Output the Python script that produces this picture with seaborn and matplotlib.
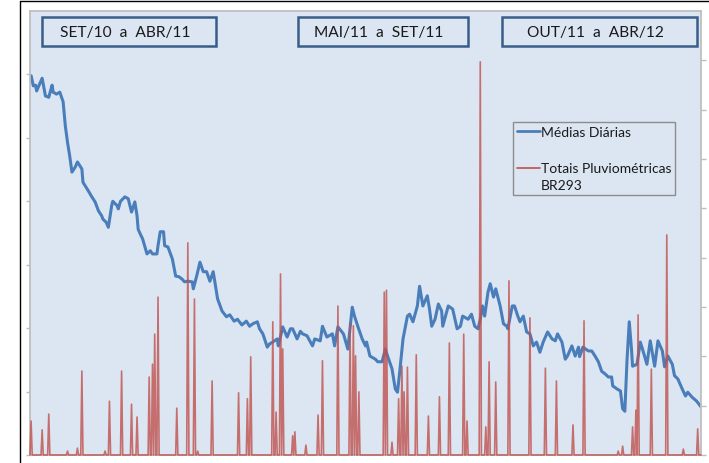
import numpy as np
import pandas as pd
import matplotlib
matplotlib.use("Agg")
import matplotlib.pyplot as plt
import seaborn as sns
from matplotlib.lines import Line2D
from matplotlib.patches import Rectangle
from matplotlib.legend_handler import HandlerLine2D

# ---------------- data ----------------
n_dias = 609  # SET/10 .. ABR/12, daily index

dias_media = [1, 3, 5, 6, 11, 14, 17, 20, 21, 24, 27, 30, 32, 34, 36, 38, 41, 43, 47, 48,
              52, 53, 56, 59, 62, 65, 66, 69, 71, 74, 75, 79, 80, 82, 86, 89, 92, 95, 97, 98,
              100, 102, 106, 109, 111, 115, 116, 118, 121, 122, 125, 129, 132, 135, 138, 140, 143, 147, 148, 151,
              154, 157, 160, 163, 166, 170, 174, 178, 181, 185, 188, 192, 196, 199, 202, 206, 208, 211, 215, 217,
              220, 224, 225, 229, 233, 236, 238, 242, 245, 247, 251, 256, 258, 263, 265, 269, 274, 276, 279, 284,
              288, 292, 294, 297, 301, 304, 305, 308, 313, 315, 319, 322, 324, 328, 331, 333, 335, 338, 342, 344,
              347, 351, 353, 356, 360, 362, 364, 367, 370, 373, 374, 379, 383, 387, 390, 392, 397, 400, 403, 406,
              408, 410, 412, 415, 417, 420, 422, 426, 429, 432, 433, 437, 439, 442, 444, 447, 450, 453, 456, 459,
              462, 465, 469, 473, 476, 478, 482, 485, 487, 491, 494, 497, 498, 501, 506, 509, 512, 515, 518, 521,
              524, 527, 528, 532, 535, 537, 539, 541, 543, 545, 546, 550, 553, 555, 559, 562, 566, 569, 573, 575,
              578, 582, 584, 587, 591, 594, 596, 600, 604, 608]
medias_diarias = [5.98, 5.82, 5.83, 5.74, 5.94, 5.66, 5.64, 5.83, 5.72, 5.69, 5.72, 5.57, 5.19, 4.93, 4.71, 4.46, 4.54, 4.62, 4.51, 4.30,
                  4.19, 4.16, 4.07, 3.99, 3.85, 3.77, 3.72, 3.67, 3.59, 3.93, 4.00, 3.93, 3.88, 4.00, 4.07, 4.04, 3.83, 3.99, 3.77, 3.56,
                  3.48, 3.41, 3.17, 3.22, 3.17, 3.17, 3.30, 3.52, 3.52, 3.30, 3.28, 3.09, 2.82, 2.81, 2.77, 2.73, 2.74, 2.73, 2.62, 2.82,
                  3.04, 2.89, 2.89, 2.74, 2.89, 2.46, 2.27, 2.18, 2.21, 2.11, 2.14, 2.05, 2.11, 2.03, 2.07, 2.10, 1.99, 1.91, 1.70, 1.75,
                  1.78, 1.83, 1.72, 2.02, 1.86, 1.99, 1.99, 1.83, 1.95, 1.91, 1.88, 1.72, 1.83, 1.80, 2.03, 1.86, 1.91, 1.72, 2.02, 1.91,
                  1.67, 2.33, 2.19, 2.03, 1.83, 1.72, 1.78, 1.56, 1.51, 1.47, 1.47, 1.67, 1.56, 1.36, 1.04, 0.99, 1.31, 1.83, 2.19, 2.22,
                  2.10, 2.35, 2.66, 2.35, 2.51, 2.30, 2.03, 2.14, 2.38, 2.27, 2.03, 2.35, 2.30, 1.99, 2.03, 2.19, 2.14, 2.22, 2.03, 1.99,
                  2.14, 2.35, 2.19, 2.57, 2.70, 2.49, 2.62, 2.35, 2.07, 2.03, 1.99, 2.35, 2.35, 2.19, 2.10, 2.19, 1.94, 1.91, 1.72, 1.78,
                  1.62, 1.78, 1.94, 1.83, 1.80, 1.91, 1.78, 1.51, 1.56, 1.72, 1.56, 1.70, 1.55, 1.70, 1.64, 1.64, 1.56, 1.47, 1.32, 1.28,
                  1.23, 1.23, 1.09, 1.04, 1.01, 0.73, 0.69, 1.51, 2.10, 1.67, 1.40, 1.43, 1.78, 1.67, 1.43, 1.80, 1.40, 1.80, 1.64, 1.39,
                  1.56, 1.43, 1.25, 1.20, 1.04, 0.93, 0.99, 0.91, 0.85, 0.76]

dias_chuva = [1, 11, 17, 34, 43, 47, 68, 72, 83, 92, 97, 108, 111, 113, 116, 133, 143, 149, 152, 165,
              189, 197, 200, 220, 223, 227, 229, 238, 240, 250, 261, 265, 279, 290, 293, 295, 298, 321, 323, 328,
              334, 337, 339, 342, 350, 361, 371, 380, 393, 396, 408, 413, 416, 422, 434, 453, 467, 477, 492, 502,
              533, 537, 546, 549, 551, 563, 577, 592, 605]
totais_chuva = [0.69, 0.51, 0.83, 0.08, 0.14, 1.70, 0.08, 1.09, 1.70, 1.03, 0.77, 1.58, 1.84, 2.45, 3.20, 0.95, 4.30, 3.16, 0.08, 1.50,
                1.26, 1.14, 1.99, 2.70, 0.87, 3.67, 2.15, 0.39, 0.47, 0.20, 0.81, 1.91, 3.02, 2.66, 2.62, 2.01, 1.28, 3.30, 3.34, 0.26,
                1.14, 1.80, 1.28, 1.78, 2.03, 0.79, 1.18, 2.27, 2.45, 0.69, 7.97, 0.57, 1.89, 1.48, 3.53, 2.78, 1.76, 1.50, 0.61, 2.72,
                0.08, 0.18, 0.57, 0.91, 2.84, 1.74, 4.46, 0.12, 0.53]

periodos = ["SET/10  a  ABR/11", "MAI/11  a  SET/11", "OUT/11  a  ABR/12"]
legenda = ["Médias Diárias", "Totais Pluviométricas\nBR293"]

# ---------------- style ----------------
sns.set_style("white")
plt.rcParams["font.family"] = ["Lato", "DejaVu Sans"]

AZUL = "#4A7EBB"
VERMELHO = "#C0504D"
FUNDO = "#DCE6F2"
CINZA = "#BFBFBF"

fig = plt.figure(figsize=(7.09, 4.64), dpi=100)
ax = fig.add_axes([30 / 709, 8 / 464, 671 / 709, 444 / 464])
ax.set_facecolor(FUNDO)

df_media = pd.DataFrame({"dia": dias_media, "valor": medias_diarias})
sns.lineplot(data=df_media, x="dia", y="valor", ax=ax, color=AZUL, linewidth=2.2)

ax2 = ax.twinx()
chuva = np.zeros(n_dias)
chuva[dias_chuva] = totais_chuva
df_chuva = pd.DataFrame({"dia": np.arange(n_dias), "valor": chuva})
sns.lineplot(data=df_chuva, x="dia", y="valor", ax=ax2, color=VERMELHO, linewidth=1.2, alpha=0.8)
for ln in ax2.lines:
    ln.set_clip_on(False)

ax.set_xlim(0, n_dias - 1)
ax.set_ylim(0, 7)
ax2.set_ylim(0, 9)
ax.set_yticks(range(7))
ax2.set_yticks(range(9))
ax.set_yticklabels([])
ax2.set_yticklabels([])
ax.set_xticks([])
for a in (ax, ax2):
    a.set_xlabel("")
    a.set_ylabel("")
ax.tick_params(axis="y", left=True, right=False, length=3, width=1, color=CINZA, direction="out")
ax2.tick_params(axis="y", right=True, left=False, length=3.5, width=1, color=CINZA, direction="out")
for s in ax.spines.values():
    s.set_color(CINZA)
    s.set_linewidth(1.3)
for s in ax2.spines.values():
    s.set_visible(False)


class HandlerPrimeiraLinha(HandlerLine2D):
    """Line handle aligned with the first line of a two-line label."""

    def __init__(self, deslocamento, **kw):
        super().__init__(**kw)
        self.deslocamento = deslocamento

    def create_artists(self, legend, orig_handle, xdescent, ydescent, width, height, fontsize, trans):
        return super().create_artists(legend, orig_handle, xdescent, ydescent - 2 * self.deslocamento,
                                      width, height, fontsize, trans)


# legend
h_media = Line2D([], [], color=AZUL, linewidth=2)
h_chuva = Line2D([], [], color=VERMELHO, linewidth=1.2)
leg = ax2.legend([h_media, h_chuva], legenda, loc="upper left", bbox_to_anchor=(0.7200, 0.7500),
                 bbox_transform=ax.transAxes, borderaxespad=0, frameon=True, fancybox=False,
                 edgecolor="#8C8C8C", facecolor=FUNDO, framealpha=1, fontsize=10,
                 handlelength=1.65, handletextpad=0.08, labelspacing=1.75, borderpad=0.28,
                 handler_map={h_chuva: HandlerPrimeiraLinha(6.5)})
leg.get_frame().set_linewidth(1.0)
for t in leg.get_texts():
    t.set_color("#1A1A1A")
    t.set_linespacing(1.45)

# period boxes
caixas_x = [0.0179, 0.3994, 0.7034]
caixas_w = [0.2593, 0.2534, 0.2906]
for x0, w, rot in zip(caixas_x, caixas_w, periodos):
    ax2.add_patch(Rectangle((x0, 0.9212), w, 0.0653, transform=ax.transAxes, fill=False,
                            edgecolor="#385D8A", linewidth=1.8, zorder=6, clip_on=False))
    ax2.text(x0 + w / 2 - 0.006, 0.9538, rot, transform=ax.transAxes, ha="center", va="center",
             fontsize=11.2, color="#1A1A1A", zorder=7)

# outer chart frame lines
fig.add_artist(Line2D([20 / 709, 20 / 709], [0, 1 - 2 / 464], transform=fig.transFigure, color="black", linewidth=1))
fig.add_artist(Line2D([20 / 709, 1], [1 - 2 / 464, 1 - 2 / 464], transform=fig.transFigure, color="black", linewidth=1))

fig.savefig("out.png", dpi=100)
